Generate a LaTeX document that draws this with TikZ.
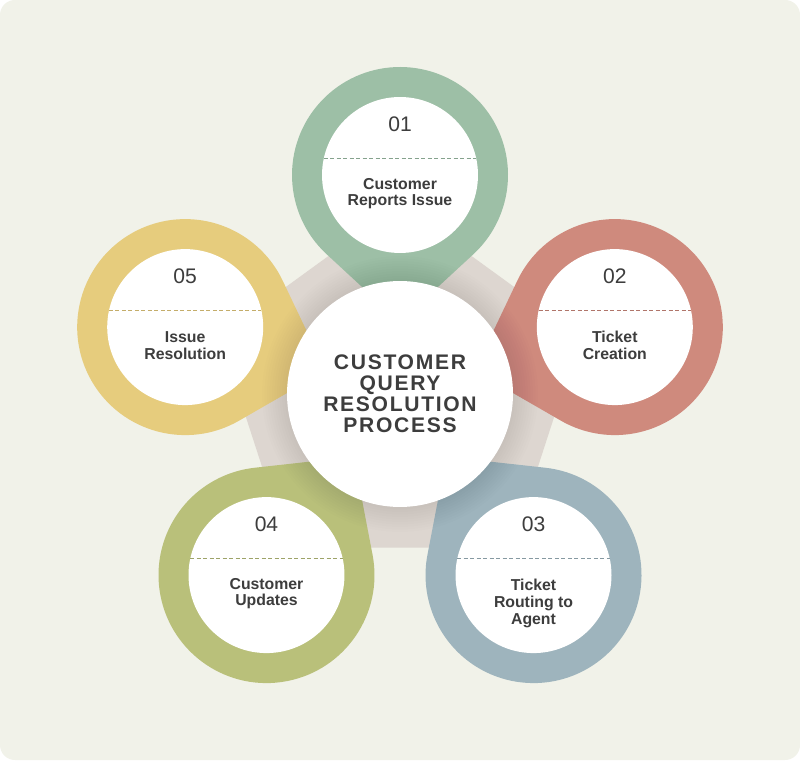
\documentclass[tikz,border=0pt]{standalone}
\usepackage{fontspec}
\setmainfont{Liberation Sans}
\newfontfamily\titlefont[LetterSpace=8]{Liberation Sans}
\usetikzlibrary{calc, shapes.geometric}

\definecolor{bgcol}{HTML}{F1F2E9}
\definecolor{pentcol}{HTML}{DDD6D0}
\definecolor{txtcol}{HTML}{3D3D3D}
\definecolor{petA}{HTML}{9DBFA6}
\definecolor{petB}{HTML}{CF8A7D}
\definecolor{petC}{HTML}{9EB4BD}
\definecolor{petD}{HTML}{B9C07A}
\definecolor{petE}{HTML}{E6CC7D}

\begin{document}
\begin{tikzpicture}[x=0.02cm, y=0.02cm,
  inner/.style={circle, fill=white, minimum size=3.12cm, inner sep=0pt, outer sep=0pt},
  numtxt/.style={text=txtcol, font=\fontsize{12}{12}\selectfont},
  lbltxt/.style={text=txtcol, align=center, font=\bfseries\fontsize{9}{9.5}\selectfont},
  hubtxt/.style={circle, fill=white, minimum size=4.52cm, inner sep=0pt,
    text=txtcol, align=center, font=\titlefont\bfseries\fontsize{12}{12}\selectfont}]
  \useasboundingbox (0,0) rectangle (800,760);
  \fill[white] (0,0) rectangle (800,760);
  \fill[bgcol, rounded corners=0.3cm] (0,0) rectangle (800,760);
  \coordinate (o) at (400,366);
  \node[regular polygon, regular polygon sides=5, minimum size=7.6cm,
    inner sep=0pt, outer sep=0pt, fill=pentcol] (pent) at (o) {};
  \foreach \ang/\d/\col in {90/219/petA, 17.3/225/petB, -53.6/225/petC,
                            -126.4/225/petD, 162.7/225/petE}
    \fill[\col, shift={(o)}, rotate=\ang] (\d-147,0)
      -- ([shift={(137.3:108)}]\d,0) arc[start angle=137.3, end angle=-137.3, radius=108]
      -- cycle;
  \foreach \r in {115.5,118,...,138}
    \fill[black, opacity=0.009] (o) circle[radius=\r];
  \node[hubtxt] (hub) at (o) {CUSTOMER\\QUERY\\RESOLUTION\\PROCESS};
  \foreach \i/\ang/\d/\col/\lbl/\dy in {
      1/90/219/petA/{Customer\\Reports Issue}/-0.37cm,
      2/17.3/225/petB/{Ticket\\Creation}/-0.37cm,
      3/-53.6/225/petC/{Ticket\\Routing to\\Agent}/-0.57cm,
      4/-126.4/225/petD/{Customer\\Updates}/-0.37cm,
      5/162.7/225/petE/{Issue\\Resolution}/-0.37cm} {
    \node[inner] (p\i) at ($(o)+(\ang:\d)$) {};
    \draw[\col!85!black, line width=0.55pt, dash pattern=on 2.3pt off 1.4pt] (p\i.168) -- (p\i.12);
    \node[numtxt] (num\i) at ([yshift=1.02cm]p\i.center) {0\i};
    \node[lbltxt] (lbl\i) at ([yshift=\dy]p\i.center) {\lbl};
  }
\end{tikzpicture}
\end{document}
